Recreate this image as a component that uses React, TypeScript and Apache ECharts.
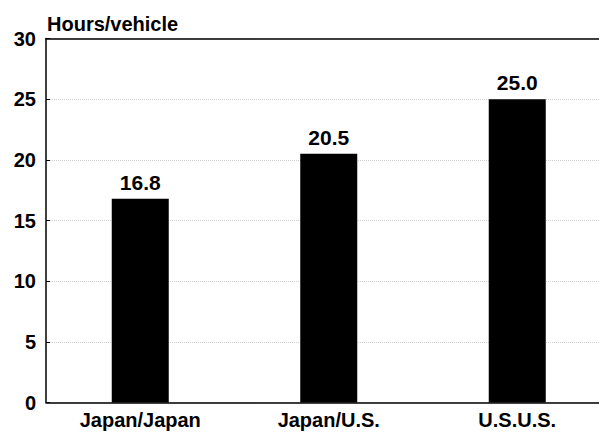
import React, { useEffect, useRef } from "react";
import * as echarts from "echarts";

const categories = ["Japan/Japan", "Japan/U.S.", "U.S.U.S."];
const hoursPerVehicle = [16.8, 20.5, 25.0];
const yTicks = { min: 0, max: 30, interval: 5 };
const yTitle = "Hours/vehicle";

const FONT = "'Liberation Sans', Arial, Helvetica, sans-serif";

export default function App() {
  const ref = useRef<HTMLDivElement>(null);
  useEffect(() => {
    if (!ref.current) return;
    const chart = echarts.init(ref.current, null, { renderer: "svg" });
    chart.setOption({
      animation: false,
      backgroundColor: "#ffffff",
      textStyle: { fontFamily: FONT },
      title: {
        text: yTitle,
        left: 42,
        top: 9,
        textStyle: { fontFamily: FONT, fontSize: 20, fontWeight: "bold", color: "#000" },
      },
      grid: {
        left: 46,
        right: -12.5,
        top: 38.5,
        bottom: 29.5,
        containLabel: false,
        outerBoundsMode: "none",
      },
      xAxis: [
        {
          type: "category",
          data: categories,
          position: "bottom",
          axisLine: { show: true, lineStyle: { color: "#000", width: 1.5 } },
          axisTick: { show: false },
          axisLabel: {
            show: true,
            color: "#000",
            fontFamily: FONT,
            fontSize: 20,
            fontWeight: "bold",
            margin: 7,
            lineHeight: 20,
          },
          splitLine: { show: false },
        },
        {
          type: "category",
          data: categories,
          position: "top",
          axisLine: { show: true, lineStyle: { color: "#000", width: 1.5 } },
          axisTick: { show: false },
          axisLabel: { show: false },
          splitLine: { show: false },
        },
      ],
      yAxis: {
        type: "value",
        min: yTicks.min,
        max: yTicks.max,
        interval: yTicks.interval,
        axisLine: { show: true, lineStyle: { color: "#000", width: 1.5 } },
        axisTick: { show: true, inside: true, length: 4, lineStyle: { color: "#000", width: 1 } },
        axisLabel: {
          color: "#000",
          fontFamily: FONT,
          fontSize: 20,
          fontWeight: "bold",
          margin: 10,
        },
        splitLine: { show: true, lineStyle: { color: "#cfcfcf", type: "dotted", width: 1 } },
      },
      series: [
        {
          type: "bar",
          data: hoursPerVehicle,
          barWidth: 57,
          itemStyle: { color: "#000" },
          label: {
            show: true,
            position: "top",
            distance: 6,
            color: "#000",
            fontFamily: FONT,
            fontSize: 21,
            fontWeight: "bold",
            formatter: (p: any) => Number(p.value).toFixed(1),
          },
        },
      ],
    });
    return () => chart.dispose();
  }, []);
  return (
    <div
      ref={ref}
      style={{ position: "fixed", left: 0, top: 0, width: 599, height: 432, background: "#fff" }}
    />
  );
}
